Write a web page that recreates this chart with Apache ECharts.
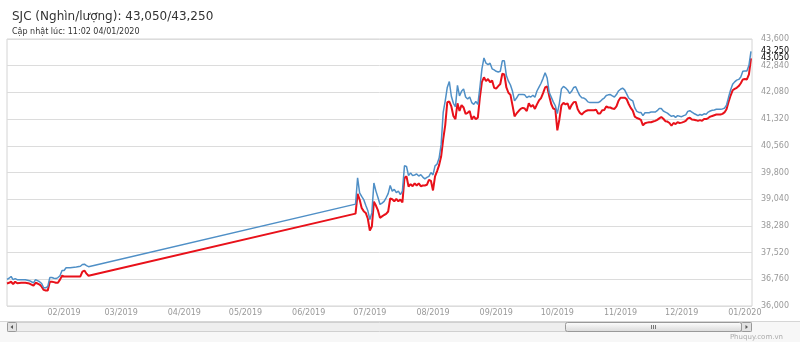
<!DOCTYPE html>
<html>
<head>
<meta charset="utf-8">
<script src="https://cdn.jsdelivr.net/npm/echarts@6/dist/echarts.min.js"></script>
<style>
html,body{margin:0;padding:0;background:#fff;}
#chart{width:800px;height:342px;}
</style>
</head>
<body>
<div id="chart"></div>
<script>
// ---- data ----
const titleText = 'SJC (Nghìn/lượng): 43,050/43,250';
const subtitleText = 'Cập nhật lúc: 11:02 04/01/2020';
const watermarkText = 'Phuquy.com.vn';

const xRange = ['2019-01-04', '2020-01-04 12:00'];
const monthTicks = ['2019-02-01','2019-03-01','2019-04-01','2019-05-01','2019-06-01','2019-07-01',
  '2019-08-01','2019-09-01','2019-10-01','2019-11-01','2019-12-01','2020-01-01'];
const yTicks = [36000,36760,37520,38280,39040,39800,40560,41320,42080,42840,43600];

const dates = [
'2019-01-04','2019-01-05','2019-01-06','2019-01-07','2019-01-08','2019-01-09','2019-01-11','2019-01-13',
'2019-01-15','2019-01-16','2019-01-17','2019-01-18','2019-01-19','2019-01-20','2019-01-21','2019-01-22',
'2019-01-23','2019-01-24','2019-01-25','2019-01-26','2019-01-27','2019-01-28','2019-01-29','2019-01-30',
'2019-01-31','2019-02-01','2019-02-02','2019-02-04','2019-02-07','2019-02-09','2019-02-10','2019-02-11',
'2019-02-12','2019-02-13',
'2019-06-24','2019-06-25','2019-06-26','2019-06-27','2019-06-28','2019-06-29','2019-06-30',
'2019-07-01','2019-07-02','2019-07-03','2019-07-04','2019-07-05','2019-07-06','2019-07-07','2019-07-08',
'2019-07-09','2019-07-10','2019-07-11','2019-07-12','2019-07-13','2019-07-14','2019-07-15','2019-07-16',
'2019-07-17','2019-07-18','2019-07-19','2019-07-20','2019-07-21','2019-07-22','2019-07-23','2019-07-24',
'2019-07-25','2019-07-26','2019-07-27','2019-07-28','2019-07-29','2019-07-30','2019-07-31',
'2019-08-01','2019-08-02','2019-08-03','2019-08-04','2019-08-05','2019-08-06','2019-08-07','2019-08-08',
'2019-08-09','2019-08-10','2019-08-11','2019-08-12','2019-08-13','2019-08-14','2019-08-15','2019-08-16',
'2019-08-17','2019-08-18','2019-08-19','2019-08-20','2019-08-21','2019-08-22','2019-08-23','2019-08-24',
'2019-08-25','2019-08-26','2019-08-27','2019-08-28','2019-08-29','2019-08-30','2019-08-31',
'2019-09-01','2019-09-02','2019-09-03','2019-09-04','2019-09-05','2019-09-06','2019-09-07','2019-09-08',
'2019-09-09','2019-09-10','2019-09-11','2019-09-12','2019-09-13','2019-09-14','2019-09-15','2019-09-16',
'2019-09-17','2019-09-18','2019-09-19','2019-09-20','2019-09-21','2019-09-22','2019-09-23','2019-09-24',
'2019-09-25','2019-09-26','2019-09-27','2019-09-28','2019-09-29','2019-09-30',
'2019-10-01','2019-10-02','2019-10-03','2019-10-04','2019-10-05','2019-10-06','2019-10-07','2019-10-08',
'2019-10-09','2019-10-10','2019-10-11','2019-10-12','2019-10-13','2019-10-14','2019-10-15','2019-10-16',
'2019-10-17','2019-10-18','2019-10-19','2019-10-20','2019-10-21','2019-10-22','2019-10-23','2019-10-24',
'2019-10-25','2019-10-26','2019-10-27','2019-10-28','2019-10-29','2019-10-30','2019-10-31',
'2019-11-01','2019-11-02','2019-11-03','2019-11-04','2019-11-05','2019-11-06','2019-11-07','2019-11-08',
'2019-11-09','2019-11-10','2019-11-11','2019-11-12','2019-11-13','2019-11-14','2019-11-15','2019-11-16',
'2019-11-17','2019-11-18','2019-11-19','2019-11-20','2019-11-21','2019-11-22','2019-11-23','2019-11-24',
'2019-11-25','2019-11-26','2019-11-27','2019-11-28','2019-11-29','2019-11-30',
'2019-12-01','2019-12-02','2019-12-03','2019-12-04','2019-12-05','2019-12-06','2019-12-07','2019-12-08',
'2019-12-09','2019-12-10','2019-12-11','2019-12-12','2019-12-13','2019-12-14','2019-12-15','2019-12-16',
'2019-12-17','2019-12-18','2019-12-19','2019-12-20','2019-12-21','2019-12-22','2019-12-23','2019-12-24',
'2019-12-25','2019-12-26','2019-12-27','2019-12-28','2019-12-29','2019-12-30','2019-12-31',
'2020-01-01','2020-01-02','2020-01-03','2020-01-04'
];

// selling price (blue)
const sellPrices = [
36760,36790,36840,36750,36780,36750,36750,36750,
36720,36690,36660,36750,36720,36690,36640,36520,
36520,36550,36810,36810,36790,36780,36810,36860,
37010,37010,37090,37090,37110,37130,37180,37190,
37150,37120,
38900,39650,39220,39120,39030,38870,38720,
38460,38650,39500,39270,39090,38890,38930,38980,
39080,39200,39430,39270,39320,39230,39270,39170,
39270,39990,39970,39710,39790,39710,39730,39760,
39700,39740,39670,39620,39660,39690,39800,
39730,39990,40040,40210,40600,41510,41840,42220,
42390,41970,41770,41670,42280,41980,42110,42180,
41950,41890,41950,41790,41740,41820,41740,42220,
42750,43060,42910,42870,42910,42750,42720,
42680,42660,42680,42980,42980,42560,42400,42290,
42110,41840,41920,42020,42020,42020,42010,41930,
41970,41950,42000,41940,42120,42230,42340,42480,
42640,42490,42080,41950,41810,41700,
41480,41770,42180,42250,42210,42150,42050,42110,
42220,42240,42110,41990,41930,41920,41880,41810,
41790,41790,41790,41790,41790,41820,41880,41920,
41990,42010,42020,41980,41950,42020,42120,
42170,42200,42150,42040,41920,41870,41840,41640,
41540,41510,41510,41420,41500,41500,41500,41520,
41520,41520,41560,41620,41620,41550,41520,41490,
41440,41400,41420,41370,41420,41400,
41390,41420,41440,41540,41560,41520,41480,41450,
41420,41450,41430,41470,41460,41520,41550,41570,
41580,41600,41600,41600,41610,41630,41720,41940,
42150,42310,42380,42430,42450,42520,42680,
42690,42690,42850,43250
];

// buying price (red)
const buyPrices = [
36640,36660,36690,36620,36690,36650,36660,36660,
36640,36610,36580,36660,36640,36610,36550,36460,
36440,36440,36690,36690,36680,36660,36660,36750,
36860,36840,36840,36840,36840,36840,36980,37010,
36920,36860,
38630,39190,39030,38790,38700,38650,38490,
38150,38260,38970,38860,38720,38510,38550,38590,
38620,38690,39060,39040,38980,39050,38980,39030,
38950,39650,39690,39400,39470,39410,39490,39430,
39490,39410,39430,39430,39450,39590,39560,
39290,39690,39840,40010,40260,40740,41150,41800,
41820,41680,41410,41320,41770,41550,41720,41650,
41470,41500,41550,41310,41400,41320,41360,41940,
42380,42510,42400,42460,42370,42420,42210,
42190,42260,42320,42610,42590,42220,42070,42010,
41710,41400,41480,41550,41610,41640,41620,41550,
41770,41670,41720,41610,41740,41850,41920,42060,
42220,42250,41980,41750,41620,41600,
41000,41310,41710,41780,41740,41770,41600,41720,
41800,41810,41600,41500,41450,41510,41550,41570,
41570,41570,41570,41590,41480,41480,41570,41580,
41680,41650,41650,41620,41610,41680,41840,
41930,41930,41930,41890,41750,41640,41560,41390,
41350,41330,41300,41140,41200,41220,41230,41230,
41250,41270,41300,41340,41380,41330,41260,41250,
41210,41130,41210,41180,41230,41210,
41220,41240,41270,41340,41360,41310,41300,41290,
41270,41290,41270,41320,41320,41350,41390,41410,
41430,41450,41450,41450,41470,41510,41600,41810,
41990,42140,42180,42210,42260,42340,42450,
42460,42450,42590,43050
];

// ---- chart ----
const FONT = 'DejaVu Sans';
function fmt(v){ return String(Math.round(v)).replace(/\B(?=(\d{3})+(?!\d))/g, ','); }
function toTs(s){
  const parts = s.split(' ');
  const p = parts[0].split('-');
  let h = 0, m = 0;
  if (parts[1]) { const t = parts[1].split(':'); h = +t[0]; m = +t[1]; }
  return new Date(+p[0], +p[1]-1, +p[2], h, m).getTime();
}
function pad2(n){ return (n<10?'0':'')+n; }

const sellData = dates.map((d,i)=>[toTs(d), sellPrices[i]]);
const buyData = dates.map((d,i)=>[toTs(d), buyPrices[i]]);
const xTickValues = monthTicks.map(toTs);

const chart = echarts.init(document.getElementById('chart'), null, {renderer:'canvas'});
const option = {
  animation: false,
  backgroundColor: '#ffffff',
  textStyle: {fontFamily: FONT},
  title: [
    {text: titleText, left: 12, top: 11, padding: 0,
     textStyle: {fontSize: 12, fontWeight: 'normal', color: '#333', fontFamily: FONT}},
    {text: subtitleText, left: 12, top: 27.5, padding: 0,
     textStyle: {fontSize: 8, fontWeight: 'normal', color: '#333', fontFamily: FONT}}
  ],
  grid: {left: 7, right: 48, top: 39, bottom: 36, show: true, borderColor: '#d4d4d4', borderWidth: 1},
  xAxis: {
    type: 'value',
    min: toTs(xRange[0]), max: toTs(xRange[1]),
    axisLine: {show: false},
    axisTick: {show: false, customValues: xTickValues},
    splitLine: {show: false},
    axisLabel: {
      customValues: xTickValues,
      formatter: function(v){ const d = new Date(v); return pad2(d.getMonth()+1) + '/' + d.getFullYear(); },
      color: '#999', fontSize: 8, margin: 3, fontFamily: FONT, hideOverlap: false
    }
  },
  yAxis: {
    type: 'value', position: 'right',
    min: yTicks[0], max: yTicks[yTicks.length-1],
    axisLine: {show: false},
    axisTick: {show: false, customValues: yTicks},
    splitLine: {show: true, lineStyle: {color: '#dcdcdc', width: 1}},
    axisLabel: {customValues: yTicks, formatter: fmt, color: '#999', fontSize: 8, margin: 9, fontFamily: FONT}
  },
  series: [
    {name: 'Mua', type: 'line', data: buyData, symbol: 'none', showSymbol: false,
     lineStyle: {color: '#e8111a', width: 2}, itemStyle: {color: '#e8111a'}, z: 2,
     endLabel: {show: true, formatter: p => fmt(p.value[1]), color: '#000', fontSize: 8, distance: 10, fontFamily: FONT}},
    {name: 'Bán', type: 'line', data: sellData, symbol: 'none', showSymbol: false,
     lineStyle: {color: '#4f8fc6', width: 1.5}, itemStyle: {color: '#4f8fc6'}, z: 3,
     endLabel: {show: true, formatter: p => fmt(p.value[1]), color: '#000', fontSize: 8, distance: 10, fontFamily: FONT}}
  ],
  graphic: [
    {type: 'rect', silent: true, shape: {x: 0, y: 321, width: 800, height: 21}, style: {fill: '#f7f7f7'}},
    {type: 'line', silent: true, shape: {x1: 0, y1: 321.5, x2: 800, y2: 321.5}, style: {stroke: '#d6d6d6', lineWidth: 1}},
    {type: 'rect', silent: true, shape: {x: 7.5, y: 322.5, width: 744, height: 9}, style: {fill: '#eeeeee', stroke: '#d0d0d0', lineWidth: 1}},
    {type: 'rect', silent: true, shape: {x: 7.5, y: 322.5, width: 9, height: 9, r: 1}, style: {fill: '#e2e2e2', stroke: '#999', lineWidth: 1}},
    {type: 'polygon', silent: true, shape: {points: [[13,325],[13,329],[10.5,327]]}, style: {fill: '#555'}},
    {type: 'rect', silent: true, shape: {x: 565.5, y: 322.5, width: 176, height: 9, r: 2},
     style: {fill: new echarts.graphic.LinearGradient(0,0,0,1,[{offset:0,color:'#ffffff'},{offset:1,color:'#d8d8d8'}]), stroke: '#999', lineWidth: 1}},
    {type: 'line', silent: true, shape: {x1: 651.5, y1: 325, x2: 651.5, y2: 329}, style: {stroke: '#777', lineWidth: 1}},
    {type: 'line', silent: true, shape: {x1: 653.5, y1: 325, x2: 653.5, y2: 329}, style: {stroke: '#777', lineWidth: 1}},
    {type: 'line', silent: true, shape: {x1: 655.5, y1: 325, x2: 655.5, y2: 329}, style: {stroke: '#777', lineWidth: 1}},
    {type: 'rect', silent: true, shape: {x: 741.5, y: 322.5, width: 10, height: 9, r: 1}, style: {fill: '#e2e2e2', stroke: '#999', lineWidth: 1}},
    {type: 'polygon', silent: true, shape: {points: [[745.5,325],[745.5,329],[748,327]]}, style: {fill: '#555'}},
    {type: 'text', silent: true, style: {x: 783, y: 337, text: watermarkText, fill: '#aaa', font: '7px "DejaVu Sans"', textAlign: 'right', textVerticalAlign: 'middle'}}
  ]
};
chart.setOption(option);
</script>
</body>
</html>
